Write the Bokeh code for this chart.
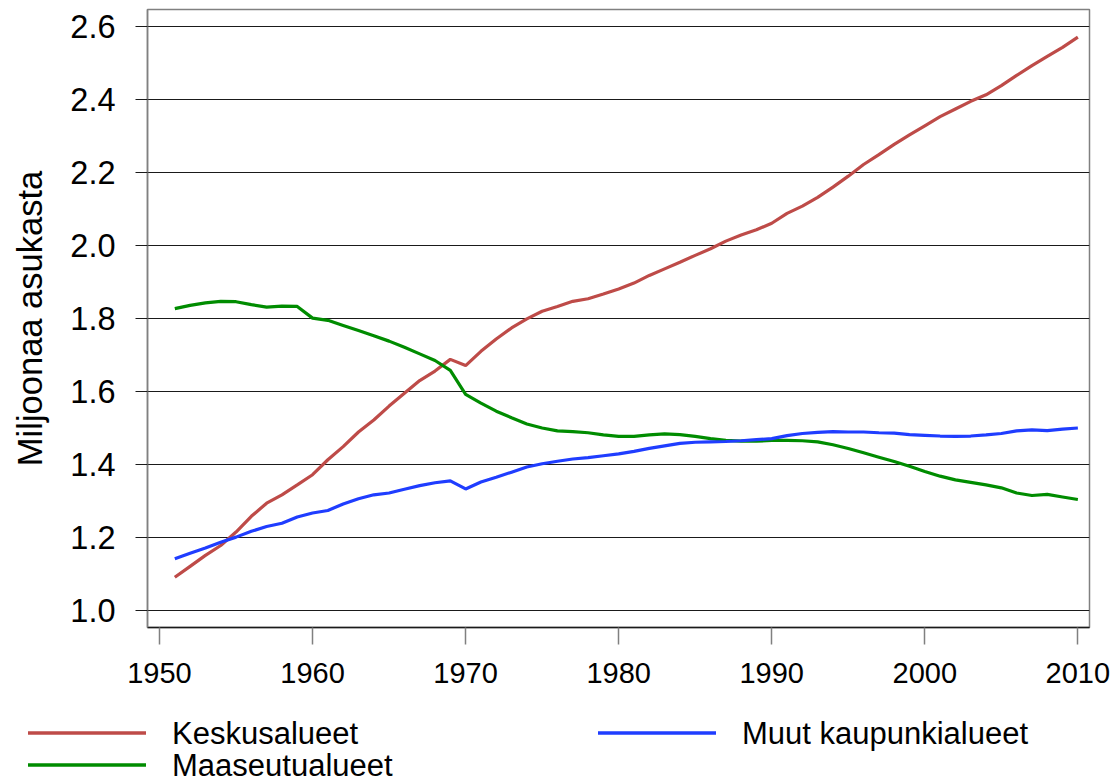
from bokeh.plotting import figure
from bokeh.layouts import column
from bokeh.models import Range1d, FixedTicker, NumeralTickFormatter, Div
from bokeh.embed import file_html
from bokeh.resources import INLINE

years = list(range(1951, 2011))

keskusalueet = [
    1.091, 1.121, 1.151, 1.178, 1.215, 1.258, 1.294, 1.317, 1.344, 1.372,
    1.413, 1.449, 1.489, 1.522, 1.560, 1.595, 1.630, 1.656, 1.688, 1.671,
    1.710, 1.744, 1.774, 1.799, 1.820, 1.833, 1.847, 1.854, 1.867, 1.881,
    1.897, 1.918, 1.936, 1.954, 1.973, 1.991, 2.012, 2.029, 2.043, 2.061,
    2.088, 2.108, 2.132, 2.160, 2.190, 2.222, 2.249, 2.277, 2.303, 2.328,
    2.353, 2.374, 2.395, 2.413, 2.438, 2.466, 2.493, 2.518, 2.543, 2.571,
]

maaseutualueet = [
    1.827, 1.836, 1.843, 1.847, 1.846, 1.838, 1.831, 1.834, 1.833, 1.801,
    1.795, 1.781, 1.767, 1.753, 1.738, 1.721, 1.703, 1.685, 1.658, 1.592,
    1.568, 1.546, 1.528, 1.511, 1.500, 1.492, 1.490, 1.487, 1.481, 1.477,
    1.477, 1.481, 1.484, 1.482, 1.477, 1.471, 1.466, 1.464, 1.464, 1.466,
    1.466, 1.465, 1.462, 1.454, 1.444, 1.432, 1.420, 1.408, 1.395, 1.381,
    1.368, 1.358, 1.351, 1.344, 1.336, 1.322, 1.315, 1.318, 1.311, 1.304,
]

muut_kaupunkialueet = [
    1.142, 1.157, 1.171, 1.187, 1.201, 1.217, 1.230, 1.239, 1.256, 1.267,
    1.274, 1.292, 1.306, 1.317, 1.322, 1.332, 1.342, 1.350, 1.355, 1.333,
    1.352, 1.365, 1.379, 1.393, 1.402, 1.409, 1.415, 1.419, 1.424, 1.429,
    1.436, 1.444, 1.451, 1.458, 1.461, 1.462, 1.463, 1.465, 1.468, 1.471,
    1.479, 1.485, 1.488, 1.490, 1.489, 1.489, 1.487, 1.486, 1.482, 1.480,
    1.478, 1.477, 1.478, 1.481, 1.485, 1.492, 1.495, 1.493, 1.497, 1.500,
]

series_names = ["Keskusalueet", "Maaseutualueet", "Muut kaupunkialueet"]
series_colors = ["#BE4B48", "#008C00", "#1F3DFF"]
x_ticks = [1950, 1960, 1970, 1980, 1990, 2000, 2010]
y_ticks = [1.0, 1.2, 1.4, 1.6, 1.8, 2.0, 2.2, 2.4, 2.6]
y_label = "Miljoonaa asukasta"

W = 1120
H_MAIN, H_LEG = 700, 83

p = figure(width=W, height=H_MAIN, output_backend="svg", toolbar_location=None,
           x_range=Range1d(1949.216, 2010.76), y_range=Range1d(0.9534, 2.6466),
           min_border_left=147, min_border_right=31, min_border_top=9,
           min_border_bottom=73)
p.background_fill_color = "white"
p.border_fill_color = "white"
p.outline_line_color = "#808080"
p.outline_line_width = 1.5

p.xgrid.visible = False
p.ygrid.grid_line_color = "#1a1a1a"
p.ygrid.grid_line_width = 1
p.ygrid.ticker = FixedTicker(ticks=y_ticks)

xa = p.xaxis[0]
xa.ticker = FixedTicker(ticks=x_ticks)
xa.axis_line_color = "#1a1a1a"
xa.axis_line_width = 1.5
xa.major_tick_line_color = "#808080"
xa.major_tick_line_width = 1.5
xa.major_tick_out = 17
xa.major_tick_in = 0
xa.minor_tick_line_color = None
xa.major_label_text_font = "Liberation Sans"
xa.major_label_text_font_size = "29px"
xa.major_label_text_color = "black"
xa.major_label_standoff = 18

ya = p.yaxis[0]
ya.ticker = FixedTicker(ticks=y_ticks)
ya.formatter = NumeralTickFormatter(format="0.0")
ya.axis_line_color = "#808080"
ya.axis_line_width = 1.5
ya.major_tick_line_color = "#1a1a1a"
ya.major_tick_out = 12
ya.major_tick_in = 0
ya.minor_tick_line_color = None
ya.major_label_text_font = "Liberation Sans"
ya.major_label_text_font_size = "32.5px"
ya.major_label_text_color = "black"
ya.major_label_standoff = 20
ya.axis_label = y_label
ya.axis_label_text_font = "Liberation Sans"
ya.axis_label_text_font_size = "34.5px"
ya.axis_label_text_font_style = "normal"
ya.axis_label_text_color = "black"
ya.axis_label_standoff = 18

data = [keskusalueet, maaseutualueet, muut_kaupunkialueet]
for vals, col in zip(data, series_colors):
    p.line(years, vals, line_color=col, line_width=3.2)

# Legend strip below the chart: two columns, first column holds two rows
slots = [(28, 33), (28, 65), (598, 33)]   # (line start x, row centre y)
GLYPH_W, STANDOFF, FONT = 118, 26, 31
parts = []
for name, col, (x0, yc) in zip(series_names, series_colors, slots):
    parts.append(
        f'<line x1="{x0}" y1="{yc}" x2="{x0 + GLYPH_W}" y2="{yc}" '
        f'stroke="{col}" stroke-width="3.5"/>'
    )
    parts.append(
        f'<text x="{x0 + GLYPH_W + STANDOFF}" y="{yc + 0.36 * FONT:.1f}" '
        f'font-family="Liberation Sans" font-size="{FONT}px" fill="black">{name}</text>'
    )
svg = (f'<svg xmlns="http://www.w3.org/2000/svg" width="{W}" height="{H_LEG}" '
       f'style="display:block">' + "".join(parts) + "</svg>")
legend_div = Div(text=svg, width=W, height=H_LEG, margin=0,
                 styles={"padding": "0", "margin": "0", "line-height": "0"})

layout = column(p, legend_div, spacing=0)
open("out.html", "w").write(file_html(layout, INLINE))
